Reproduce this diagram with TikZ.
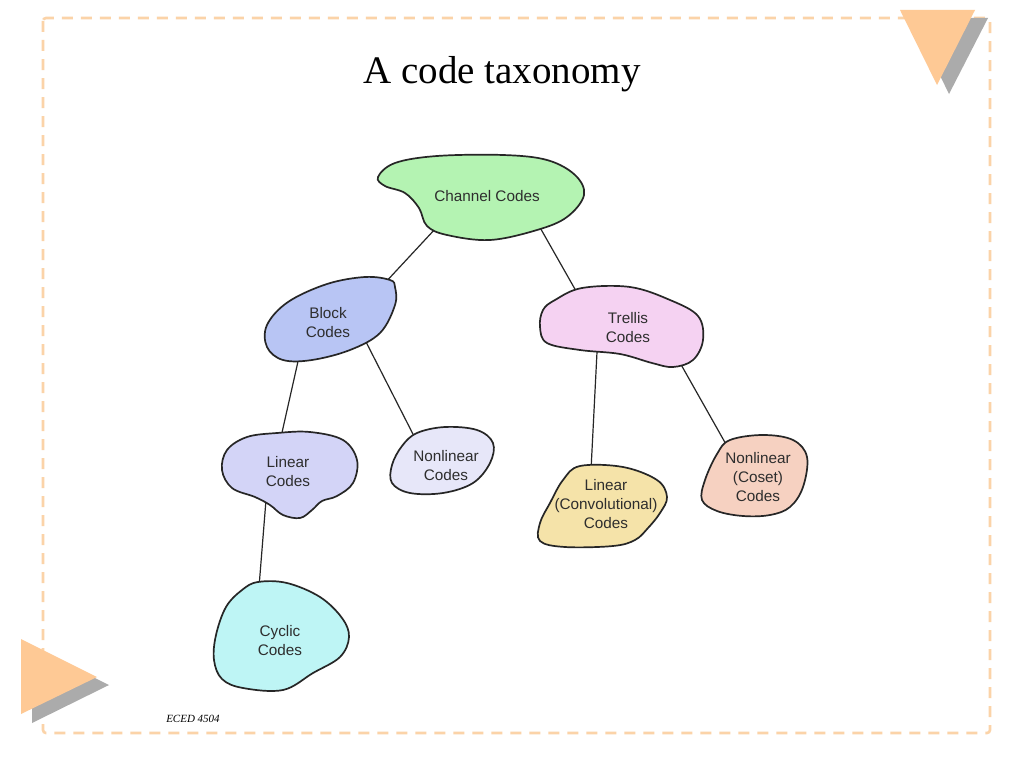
\documentclass[tikz,border=0pt]{standalone}
\usepackage{fontspec}
\setmainfont{Liberation Serif}
\newfontfamily\blobfont{Liberation Sans}
\begin{document}
\begin{tikzpicture}[x=1pt,y=-1pt,
  blob/.style={draw=black!85, line width=1.7pt},
  link/.style={draw=black!85, line width=1.2pt},
  label/.style={font=\blobfont\fontsize{15.3}{19}\selectfont, align=center, text=black!82},
  frame/.style={draw=framecol, line width=2.6pt, dash pattern=on 11pt off 8pt, rounded corners=3pt}]
\definecolor{framecol}{HTML}{FBD3A8}
\definecolor{triorange}{HTML}{FEC995}
\definecolor{trigray}{HTML}{ABABAB}
\definecolor{cgreen}{HTML}{B4F3B2}
\definecolor{cblock}{HTML}{B8C5F4}
\definecolor{ctrellis}{HTML}{F5D2F2}
\definecolor{clinear}{HTML}{D3D4F7}
\definecolor{cnonlin}{HTML}{E7E7F9}
\definecolor{cconv}{HTML}{F5E3A9}
\definecolor{ccoset}{HTML}{F6D1C1}
\definecolor{ccyclic}{HTML}{BEF5F5}
\useasboundingbox[fill=white] (0,0) rectangle (1024,768);
% frame
\draw[frame] (43,18) rectangle (990,733);
% triangles
\fill[trigray] (912,18) -- (988,18) -- (949,94) -- cycle;
\fill[triorange] (900,10) -- (975,10) -- (937,85) -- cycle;
\fill[trigray] (32,647) -- (32,723) -- (109,685) -- cycle;
\fill[triorange] (21,639) -- (21,714) -- (97,677) -- cycle;
% title and footer
\node (title) at (502,74) {\fontsize{39}{44}\selectfont A code taxonomy};
\node (footer) at (193,719) {\fontsize{11}{13}\selectfont\itshape ECED 4504};
% connector end points
\coordinate (cb1) at (436,228); \coordinate (cb2) at (383,285);
\coordinate (ct1) at (538,224); \coordinate (ct2) at (580,298);
\coordinate (bl1) at (299,357); \coordinate (bl2) at (281,437);
\coordinate (bn1) at (364,338); \coordinate (bn2) at (417,442);
\coordinate (tl1) at (597,352); \coordinate (tl2) at (591,470);
\coordinate (tn1) at (679,361); \coordinate (tn2) at (727,446);
\coordinate (lc1) at (266,500); \coordinate (lc2) at (259,587);
\draw[link] (cb1) -- (cb2);
\draw[link] (ct1) -- (ct2);
\draw[link] (bl1) -- (bl2);
\draw[link] (bn1) -- (bn2);
\draw[link] (tl1) -- (tl2);
\draw[link] (tn1) -- (tn2);
\draw[link] (lc1) -- (lc2);
% blobs
\draw[blob, fill=cgreen] plot[smooth cycle, tension=0.6] coordinates {(378,177) (395,163) (437,156) (503,155) (547,160) (575,175) (584,195) (567,217) (537,230) (490,240) (447,235) (427,226) (419,208) (405,193) (385,186)};
\draw[blob, fill=cblock] plot[smooth cycle, tension=0.6] coordinates {(390,280) (365,277) (327,284) (288,302) (267,325) (267,347) (283,360) (312,360) (350,350) (380,333) (395,305) (395,287)};
\draw[blob, fill=ctrellis] plot[smooth cycle, tension=0.6] coordinates {(555,300) (582,288) (630,287) (670,300) (698,316) (703,340) (693,360) (673,367) (652,363) (620,354) (580,350) (547,343) (540,327) (543,310)};
\draw[blob, fill=clinear] plot[smooth cycle, tension=0.6] coordinates {(247,437) (277,433) (310,432) (343,440) (357,460) (353,483) (337,496) (322,501) (312,510) (300,518) (283,515) (270,505) (255,497) (232,488) (222,470) (227,450)};
\draw[blob, fill=cnonlin] plot[smooth cycle, tension=0.6] coordinates {(417,433) (445,427) (477,430) (493,443) (490,463) (473,483) (443,493) (410,493) (392,483) (392,465) (402,446)};
\draw[blob, fill=cconv] plot[smooth cycle, tension=0.6] coordinates {(580,466) (623,467) (657,480) (667,497) (660,513) (648,528) (635,540) (613,546) (565,547) (540,541) (540,523) (550,503) (563,480)};
\draw[blob, fill=ccoset] plot[smooth cycle, tension=0.6] coordinates {(730,440) (763,435) (793,440) (807,457) (803,487) (790,507) (770,515) (743,516) (717,511) (702,500) (705,480) (717,454)};
\draw[blob, fill=ccyclic] plot[smooth cycle, tension=0.6] coordinates {(258,582) (287,583) (320,597) (342,618) (349,637) (340,657) (313,673) (283,690) (243,688) (222,679) (214,660) (216,635) (226,607) (242,590)};
% labels
\node[label] (channel) at (487,196) {Channel Codes};
\node[label] (block) at (328,323) {Block\\Codes};
\node[label] (trellis) at (628,328) {Trellis\\Codes};
\node[label] (linear) at (288,472) {Linear\\Codes};
\node[label] (nonlinear) at (446,466) {Nonlinear\\Codes};
\node[label] (conv) at (606,504) {Linear\\(Convolutional)\\Codes};
\node[label] (coset) at (758,477) {Nonlinear\\(Coset)\\Codes};
\node[label] (cyclic) at (280,641) {Cyclic\\Codes};
\end{tikzpicture}
\end{document}
